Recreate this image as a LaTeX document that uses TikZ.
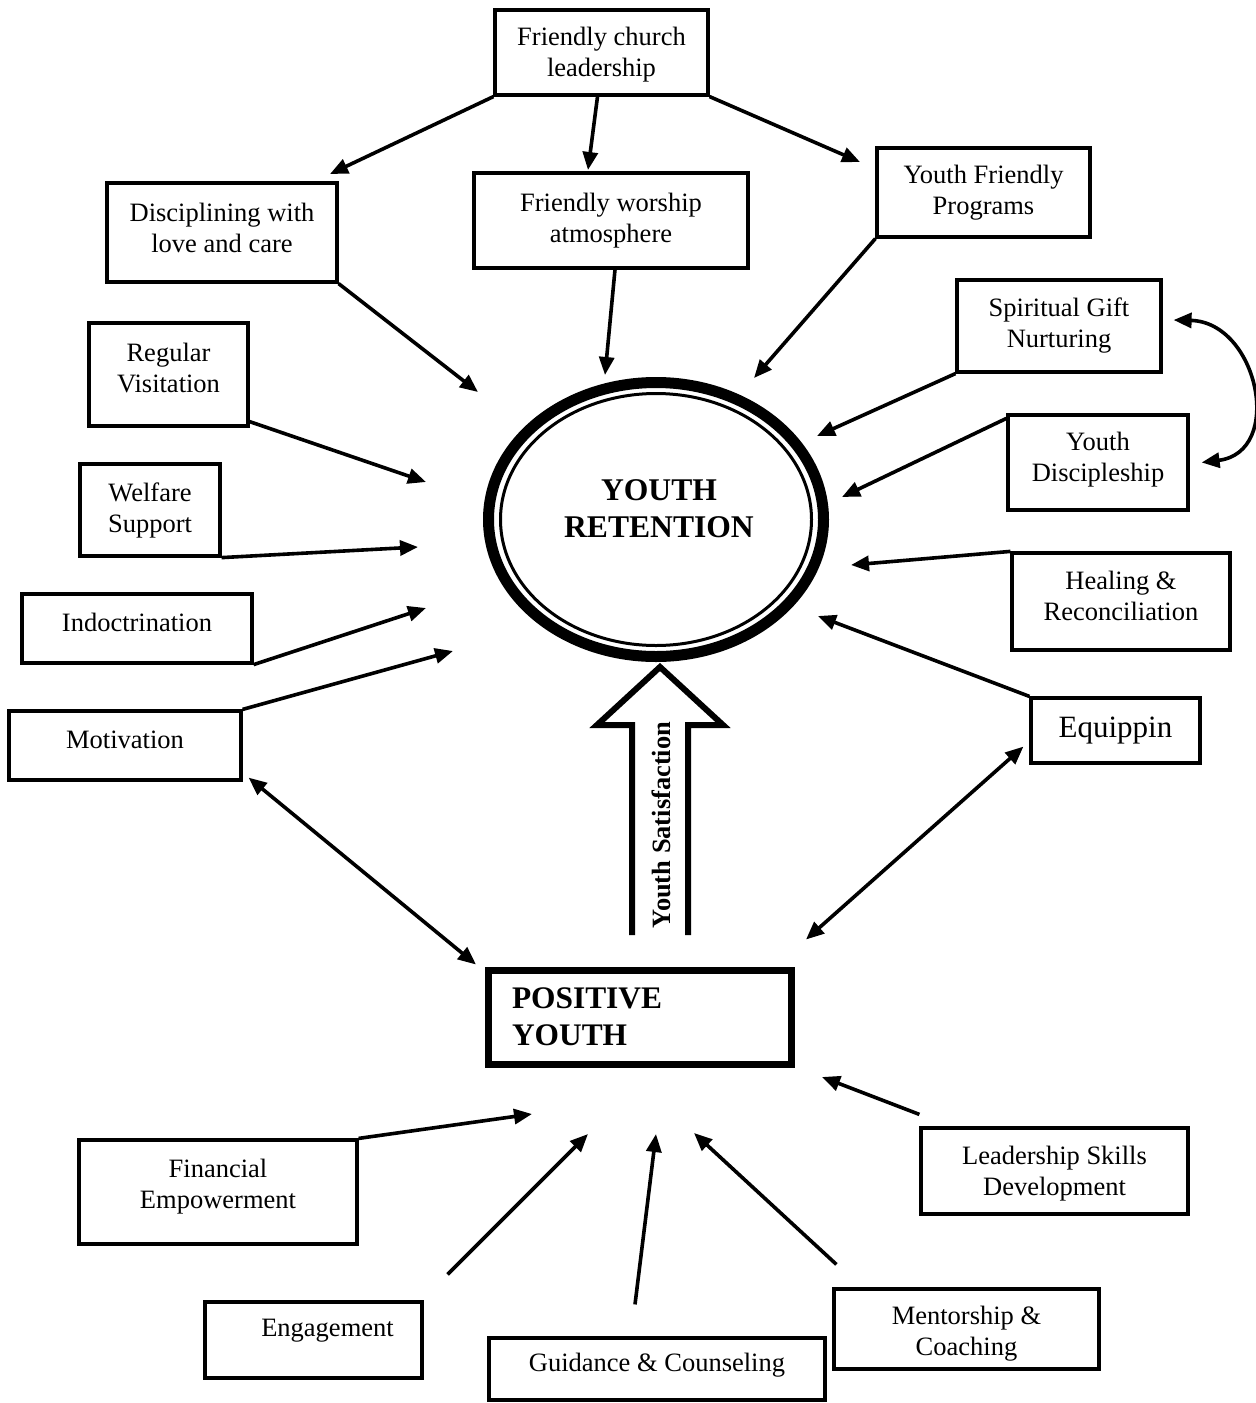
\documentclass[tikz,border=0pt]{standalone}
\usepackage{fontspec}
\setmainfont{Liberation Serif}
\usetikzlibrary{arrows.meta,calc,shapes.geometric}
\begin{document}
\begin{tikzpicture}[x=0.5pt,y=-0.5pt,
  box/.style={draw,line width=1.6pt,inner sep=0pt,align=center,font=\fontsize{13.25}{15.5}\selectfont},
  arr/.style={line width=1.8pt,-{Triangle[length=9pt,width=7.5pt]}},
  darr/.style={line width=1.8pt,{Triangle[length=9pt,width=7.5pt]}-{Triangle[length=9pt,width=7.5pt]}},
]
\useasboundingbox (0,0) rectangle (1256,1403);

% boxes
\node[box,minimum width=106.5pt,minimum height=42.5pt,text height=27pt] (fcl) at (601.5,52.5) {Friendly church\\leadership};
\node[box,minimum width=115pt,minimum height=49.5pt,text depth=4.5pt] (disc) at (222,232.5) {Disciplining with\\love and care};
\node[box,minimum width=137pt,minimum height=47.5pt] (fwa) at (611,220.5) {Friendly worship\\atmosphere};
\node[box,minimum width=106.5pt,minimum height=44.5pt] (yfp) at (983.5,192.5) {Youth Friendly\\Programs};
\node[box,minimum width=102pt,minimum height=46pt] (sgn) at (1059,326) {Spiritual Gift\\Nurturing};
\node[box,minimum width=90pt,minimum height=47.5pt,text depth=5.9pt] (ydis) at (1098,462.5) {Youth\\Discipleship};
\node[box,minimum width=109pt,minimum height=48.5pt,text depth=6pt] (heal) at (1121,601.5) {Healing \&\\Reconciliation};
\node[box,minimum width=84.5pt,minimum height=32.5pt,font=\fontsize{15.5}{18}\selectfont] (equip) at (1115.5,730.5) {Equippin};
\node[box,minimum width=79.5pt,minimum height=51.5pt,text depth=7pt] (regv) at (168.5,374.5) {Regular\\Visitation};
\node[box,minimum width=70pt,minimum height=46pt] (welf) at (150,510) {Welfare\\Support};
\node[box,minimum width=115pt,minimum height=34.5pt,text depth=6.5pt] (indoc) at (137,628.5) {Indoctrination};
\node[box,minimum width=116pt,minimum height=34.5pt,text depth=5.5pt] (motiv) at (125,745.5) {Motivation};
\node[box,minimum width=139pt,minimum height=52pt,text depth=8.4pt] (fin) at (218,1192) {Financial\\Empowerment};
\node[box,minimum width=108.5pt,minimum height=38pt,text depth=12.5pt] (eng) at (313.5,1340) {\hspace*{14pt}Engagement};
\node[box,minimum width=168pt,minimum height=31pt,text depth=6.5pt] (guid) at (657,1369) {Guidance \& Counseling};
\node[box,minimum width=132.5pt,minimum height=40pt,text height=29.5pt] (ment) at (966.5,1329) {Mentorship \&\\Coaching};
\node[box,minimum width=133.5pt,minimum height=43pt,text height=27pt] (lead) at (1054.5,1171) {Leadership Skills\\Development};

% central ellipse
\node[ellipse,draw,line width=5.5pt,minimum width=167.5pt,minimum height=137pt,inner sep=0pt] (ret) at (656,519.5) {};
\draw[line width=1.5pt] (ret.center) ellipse [x radius=77.75pt, y radius=63pt];
\node[font=\bfseries\fontsize{15.8}{18.5}\selectfont,align=center] (rett) at (659,508.5) {YOUTH\\RETENTION};

% positive youth
\node[draw,line width=3.5pt,minimum width=151.5pt,minimum height=47pt,inner xsep=11.75pt,inner ysep=0pt,text width=128pt,align=left,font=\bfseries\fontsize{15.7}{18.5}\selectfont] (pos) at (640,1017) {POSITIVE\\YOUTH};

% block arrow
\draw[line width=3pt,miter limit=10] (632,935) -- (632,725) -- (597,725) -- (660,667) -- (723,725) -- (688,725) -- (688,935);
\node[rotate=90,font=\bfseries\fontsize{13.2}{15}\selectfont] (sat) at (661,825) {Youth Satisfaction};

% free arrow ends
\coordinate (tDisc) at (330,174);
\coordinate (tFwa) at (588,170);
\coordinate (tYfp) at (860,162);
\coordinate (tA) at (478,392);
\coordinate (tB) at (605,375);
\coordinate (tC) at (754,378);
\coordinate (tD) at (817,436);
\coordinate (tE) at (842,497);
\coordinate (tF) at (851,565);
\coordinate (tG) at (818,616);
\coordinate (tH) at (426,482);
\coordinate (tI) at (418,547);
\coordinate (tJ) at (426,608);
\coordinate (tK) at (453,651);
\coordinate (tL) at (532,1114);
\coordinate (tM) at (588,1134);
\coordinate (tN) at (656,1134);
\coordinate (tO) at (694,1133);
\coordinate (tP) at (822,1077);

% arrows
\draw[arr] (fcl.south west) -- (tDisc);
\draw[arr] ($(fcl.south)+(-4,0)$) -- (tFwa);
\draw[arr] (fcl.south east) -- (tYfp);
\draw[arr] (disc.south east) -- (tA);
\draw[arr] ($(fwa.south)+(4,0)$) -- (tB);
\draw[arr] (yfp.south west) -- (tC);
\draw[arr] (sgn.south west) -- (tD);
\draw[arr] ($(ydis.north west)+(0,5)$) -- (tE);
\draw[arr] (heal.north west) -- (tF);
\draw[arr] (equip.north west) -- (tG);
\draw[arr] ($(regv.south east)+(0,-6)$) -- (tH);
\draw[arr] (welf.south east) -- (tI);
\draw[arr] (indoc.south east) -- (tJ);
\draw[arr] (motiv.north east) -- (tK);
\draw[darr] ($(motiv.south east)+(6,-4)$) -- ($(pos.north west)+(-9,-2)$);
\draw[darr] ($(equip.south west)+(-6,-18)$) -- ($(pos.north east)+(11,-27)$);
\draw[darr] ($(sgn.east)+(11,-6)$) .. controls (1258,322) and (1285,452) .. ($(ydis.east)+(12,0)$);

\draw[arr] (fin.north east) -- (tL);
\draw[arr] ($(eng.north east)+(24,-26)$) -- (tM);
\draw[arr] ($(guid.north)+(-22,-32)$) -- (tN);
\draw[arr] ($(ment.north west)+(4,-23)$) -- (tO);
\draw[arr] ($(lead.north west)+(0,-12)$) -- (tP);
\end{tikzpicture}
\end{document}
